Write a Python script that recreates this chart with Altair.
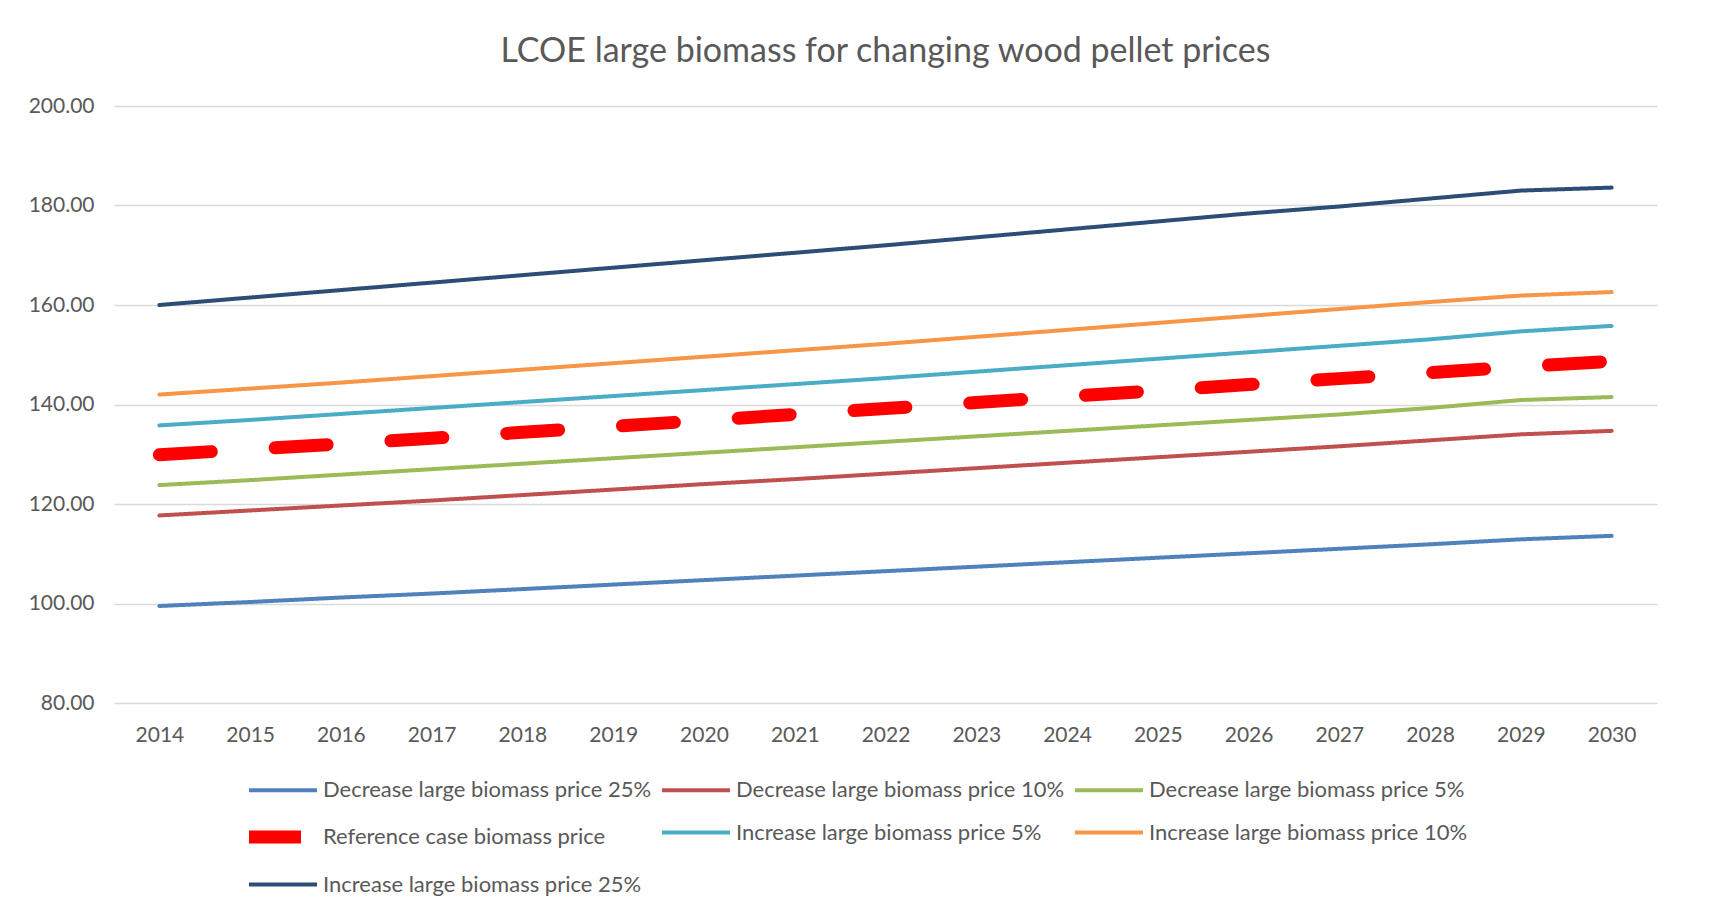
import altair as alt
import pandas as pd

years = [str(y) for y in range(2014, 2031)]

series_names = [
    "Decrease large biomass price 25%",
    "Decrease large biomass price 10%",
    "Decrease large biomass price 5%",
    "Reference case biomass price",
    "Increase large biomass price 5%",
    "Increase large biomass price 10%",
    "Increase large biomass price 25%",
]

dec25 = [99.5, 100.3, 101.2, 102.0, 102.9, 103.8, 104.7, 105.6, 106.5, 107.4, 108.3, 109.2, 110.1, 111.0, 111.9, 112.9, 113.6]
dec10 = [117.7, 118.7, 119.7, 120.7, 121.8, 122.9, 124.0, 125.0, 126.1, 127.2, 128.3, 129.4, 130.5, 131.6, 132.8, 134.0, 134.7]
dec5 = [123.8, 124.8, 125.9, 127.0, 128.1, 129.2, 130.3, 131.4, 132.5, 133.6, 134.7, 135.8, 136.9, 138.0, 139.3, 140.9, 141.5]
reference = [129.9, 131.0, 132.1, 133.2, 134.4, 135.6, 136.8, 138.0, 139.2, 140.4, 141.6, 142.8, 144.0, 145.2, 146.4, 147.6, 148.7]
inc5 = [135.8, 136.9, 138.1, 139.3, 140.5, 141.7, 142.9, 144.1, 145.3, 146.6, 147.9, 149.2, 150.5, 151.8, 153.1, 154.7, 155.8]
inc10 = [142.0, 143.2, 144.4, 145.7, 147.0, 148.3, 149.6, 150.9, 152.2, 153.6, 155.0, 156.4, 157.8, 159.2, 160.6, 161.9, 162.6]
inc25 = [160.0, 161.5, 163.0, 164.5, 166.0, 167.5, 169.0, 170.5, 172.0, 173.6, 175.2, 176.8, 178.4, 179.8, 181.4, 183.0, 183.6]

series_values = [dec25, dec10, dec5, reference, inc5, inc10, inc25]

colors = ["#4F81BD", "#C0504D", "#9BBB59", "#FF0000", "#4BACC6", "#F79646", "#2C4D75"]
dashes = [[1, 0], [1, 0], [1, 0], [52, 64], [1, 0], [1, 0], [1, 0]]
widths = [4, 4, 4, 13, 4, 4, 4]

rows = []
for i, (name, vals) in enumerate(zip(series_names, series_values)):
    for yr, v in zip(years, vals):
        rows.append({"Year": yr, "Series": name, "LCOE": v, "order": i})
df = pd.DataFrame(rows)

FONT = "Lato"
TXT = "#595959"

legend = alt.Legend(
    title=None,
    orient="none",
    legendX=151,
    legendY=661,
    direction="horizontal",
    columns=3,
    gridAlign="all",
    columnPadding=1,
    rowPadding=0,
    symbolType="M-3,0H3",
    symbolSize=514,
    labelFont=FONT,
    labelFontSize=22,
    labelColor=TXT,
    labelOffset=22,
    labelLimit=600,
)

chart = (
    alt.Chart(df)
    .mark_line(strokeCap="round", strokeJoin="round")
    .encode(
        x=alt.X(
            "Year:O",
            sort=years,
            scale=alt.Scale(type="point", padding=0.5),
            axis=alt.Axis(title=None, labelAngle=0, grid=False, ticks=False, domain=False, labelPadding=21),
        ),
        y=alt.Y(
            "LCOE:Q",
            scale=alt.Scale(domain=[80, 200], nice=False, zero=False),
            axis=alt.Axis(title=None, values=[80, 100, 120, 140, 160, 180, 200], format=".2f",
                          ticks=False, domain=False, labelPadding=20),
        ),
        color=alt.Color("Series:N", sort=series_names,
                        scale=alt.Scale(domain=series_names, range=colors), legend=legend),
        strokeDash=alt.StrokeDash("Series:N", sort=series_names,
                                  scale=alt.Scale(domain=series_names, range=dashes), legend=legend),
        strokeWidth=alt.StrokeWidth("Series:N", sort=series_names,
                                    scale=alt.Scale(type="ordinal", domain=series_names, range=widths),
                                    legend=legend),
        order=alt.Order("order:Q"),
    )
    .properties(
        width=1543,
        height=597,
        background="white",
        padding={"left": 20, "top": 27, "right": 40, "bottom": 10},
        title=alt.TitleParams(
            "LCOE large biomass for changing wood pellet prices",
            font=FONT, fontSize=34, fontWeight="normal", color=TXT, offset=26, anchor="middle",
        ),
    )
    .configure_view(stroke=None)
    .configure_axis(
        labelFont=FONT, labelFontSize=21, labelColor=TXT,
        gridColor="#D9D9D9", gridWidth=1.5,
    )
)

chart.save("out.html", embed_options={"renderer": "svg", "actions": False})
